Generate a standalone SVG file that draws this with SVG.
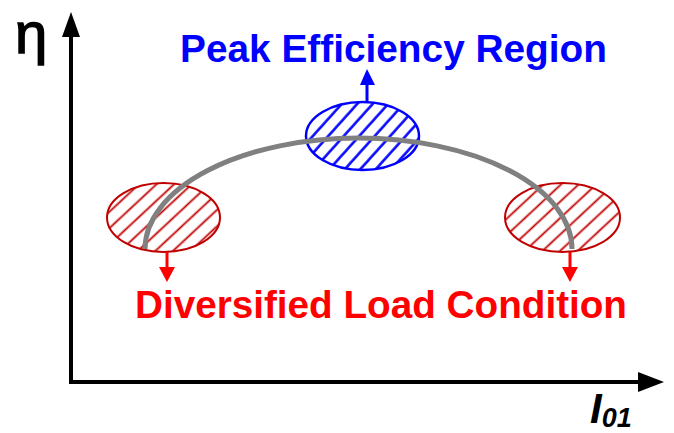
<svg xmlns="http://www.w3.org/2000/svg" width="674" height="433" viewBox="0 0 674 433">
<style>
.axis{stroke:#000;stroke-width:4;fill:none}
.lbl{font-family:"Liberation Sans",Arial,sans-serif;font-weight:bold;font-size:38.5px}
.blue{fill:#0000ff}
.red{fill:#ff0000}
.ell-b{fill:url(#hatchB);stroke:#0000ff;stroke-width:2.5}
.ell-r{fill:url(#hatchR);stroke:#c00000;stroke-width:2}
.curve{stroke:#808080;stroke-width:5;fill:none}
.arr-b{stroke:#0000ff;stroke-width:3}
.arr-r{stroke:#ff0000;stroke-width:3}
</style>
<defs>
<pattern id="hatchB" patternUnits="userSpaceOnUse" width="11.5" height="11.5" patternTransform="rotate(42)">
<rect width="11.5" height="11.5" fill="#fff"/>
<line x1="1.5" y1="0" x2="1.5" y2="11.5" stroke="#0000ff" stroke-width="2.5"/>
</pattern>
<pattern id="hatchR" patternUnits="userSpaceOnUse" width="12" height="12" patternTransform="rotate(47)">
<rect width="12" height="12" fill="#fff"/>
<line x1="1.5" y1="0" x2="1.5" y2="12" stroke="#c00000" stroke-width="1.8"/>
</pattern>
</defs>
<g id="axes">
<line class="axis" x1="71" y1="30" x2="71" y2="382"/>
<polygon points="71,12 62,37 80,37" fill="#000"/>
<line class="axis" x1="69" y1="382" x2="645" y2="382"/>
<polygon points="664,382 638,372 638,392" fill="#000"/>
<text x="15" y="53" font-family="Liberation Sans,Arial,sans-serif" font-size="58" stroke="#000" stroke-width="1.5">η</text>
<text x="590" y="423" font-family="Liberation Sans,Arial,sans-serif" font-style="italic" font-weight="bold" font-size="42">I<tspan font-size="27" dy="4">01</tspan></text>
</g>
<g id="peak">
<ellipse class="ell-b" cx="362.5" cy="136" rx="56.5" ry="34"/>
</g>
<g id="left-load">
<ellipse class="ell-r" cx="163.5" cy="217.5" rx="56.5" ry="34.5"/>
</g>
<g id="right-load">
<ellipse class="ell-r" cx="562.5" cy="217.5" rx="57.5" ry="34.5"/>
</g>
<g id="connectors">
<path class="curve" d="M145,249 A213.5,111 0 0 1 572,249"/>
<line class="arr-b" x1="367" y1="102" x2="367" y2="80"/>
<polygon points="367,69 360,85 375,85" fill="#0000ff"/>
<line class="arr-r" x1="167" y1="252" x2="167" y2="270"/>
<polygon points="167,282 159,267 175,267" fill="#ff0000"/>
<line class="arr-r" x1="570" y1="252" x2="570" y2="270"/>
<polygon points="570,282 562,267 578,267" fill="#ff0000"/>
</g>
<g id="labels">
<text class="lbl blue" x="180" y="62" textLength="427" lengthAdjust="spacingAndGlyphs">Peak Efficiency Region</text>
<text class="lbl red" x="135" y="318" textLength="492" lengthAdjust="spacingAndGlyphs">Diversified Load Condition</text>
</g>
</svg>
